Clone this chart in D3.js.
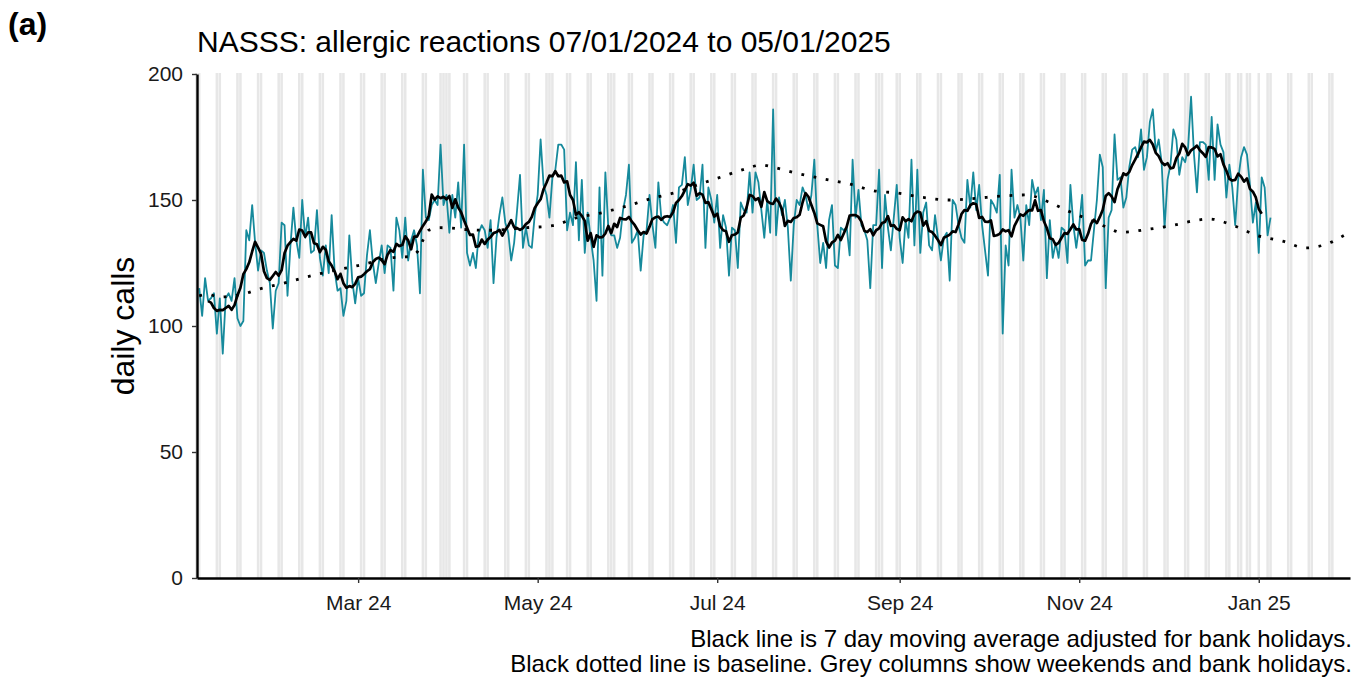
<!DOCTYPE html>
<html>
<head>
<meta charset="utf-8">
<script src="https://cdn.jsdelivr.net/npm/d3@7"></script>
<style>
  body { margin: 0; background: #fff; }
  svg { font-family: "Liberation Sans", Arial, sans-serif; }
</style>
</head>
<body>
<svg width="1357" height="677"></svg>
<script>
// daily calls from 07/01/2024, one value per day
var startDate = '2024-01-07';
var dailyCalls = [
    115, 104, 119, 110, 111, 113, 97, 111, 89, 111,
    113, 110, 119, 103, 100, 102, 138, 134, 148, 133,
    122, 130, 129, 122, 117, 99, 114, 117, 141, 140,
    112, 132, 147, 134, 127, 150, 135, 143, 129, 130,
    146, 127, 120, 132, 121, 144, 122, 114, 115, 104,
    110, 136, 118, 109, 119, 112, 113, 128, 138, 125,
    117, 125, 132, 121, 132, 131, 114, 143, 138, 127,
    143, 126, 134, 138, 132, 113, 162, 143, 142, 148,
    150, 148, 172, 148, 152, 137, 152, 143, 157, 139,
    172, 129, 124, 129, 123, 137, 140, 138, 131, 142,
    117, 135, 144, 151, 141, 137, 126, 133, 146, 160,
    131, 139, 132, 131, 144, 152, 174, 156, 152, 143,
    159, 162, 172, 172, 170, 138, 145, 140, 165, 134,
    158, 129, 145, 135, 126, 110, 155, 120, 161, 139,
    136, 136, 131, 135, 146, 152, 164, 133, 135, 138,
    122, 136, 138, 152, 140, 131, 157, 143, 141, 140,
    143, 148, 133, 155, 156, 167, 148, 154, 164, 150,
    151, 164, 131, 155, 150, 141, 152, 131, 144, 139,
    120, 139, 138, 123, 149, 146, 145, 161, 145, 161,
    157, 146, 135, 150, 137, 186, 136, 151, 144, 150,
    139, 118, 140, 150, 148, 155, 152, 146, 152, 166,
    140, 125, 133, 123, 142, 148, 124, 123, 139, 138,
    139, 128, 166, 143, 154, 140, 138, 134, 115, 140,
    140, 162, 123, 152, 139, 130, 143, 156, 135, 125,
    142, 135, 166, 132, 162, 129, 145, 149, 132, 130,
    144, 135, 126, 135, 137, 118, 150, 148, 140, 135,
    133, 158, 147, 161, 146, 156, 140, 130, 120, 150,
    148, 145, 160, 97, 132, 124, 162, 143, 148, 143,
    126, 148, 140, 158, 152, 155, 142, 154, 119, 142,
    127, 133, 127, 139, 138, 125, 156, 140, 131, 140,
    152, 124, 126, 126, 138, 150, 168, 163, 115, 143,
    146, 176, 158, 159, 147, 151, 163, 170, 171, 167,
    178, 162, 167, 181, 186, 169, 174, 165, 139, 158,
    164, 178, 174, 160, 167, 165, 171, 191, 168, 153,
    173, 173, 172, 158, 183, 158, 180, 172, 169, 151,
    164, 155, 140, 158, 167, 171, 168, 156, 141, 149,
    129, 159, 155, 136, 143
];

// baseline, read at roughly weekly points (days after startDate)
var baselineDays = [0, 3, 7, 11, 16, 20, 24, 28, 37, 45, 54, 67, 71, 74, 76, 78, 82, 86, 90, 99,
    111, 120, 128, 137, 145, 153, 162, 170, 178, 186, 191, 195, 203, 212, 221, 229, 237, 246,
    255, 264, 272, 281, 289, 297, 301, 309, 313, 322, 331, 339, 343, 352, 359, 368, 376, 383, 389];
var baselineValues = [112, 112.5, 111.5, 111.9, 113, 114.5, 115.7, 116.8, 119.6, 121.8, 124, 127.3,
    127.5, 129.3, 134, 138, 139, 138.8, 138.3, 138, 139, 139.8, 142.9, 145, 147.5, 150.4, 153,
    156.3, 159.4, 162.5, 163.9, 163, 160.6, 158.4, 156.3, 153.7, 152.8, 151, 150, 150.7, 151.5,
    152, 149, 144.7, 142.9, 138.9, 137.2, 138.3, 140, 142, 142.5, 139.6, 136.1, 133.7, 131, 132.5, 136];

var bankHolidays = ['2024-03-29', '2024-04-01', '2024-05-06', '2024-05-27', '2024-08-26',
    '2024-12-25', '2024-12-26', '2025-01-01'];

var yTicks = [0, 50, 100, 150, 200];
var xTicks = ['2024-03-01', '2024-05-01', '2024-07-01', '2024-09-01', '2024-11-01', '2025-01-01'];

var panelLabel = '(a)';
var titleText = 'NASSS: allergic reactions 07/01/2024 to 05/01/2025';
var yLabel = 'daily calls';
var captionLines = [
    'Black line is 7 day moving average adjusted for bank holidays.',
    'Black dotted line is baseline. Grey columns show weekends and bank holidays.'
];

var parseDate = d3.utcParse('%Y-%m-%d');
var start = parseDate(startDate);

var svg = d3.select('svg');
var margin = { top: 74, right: 7, bottom: 99, left: 197 };
var width = svg.attr('width') - margin.left - margin.right;
var height = svg.attr('height') - margin.top - margin.bottom;

var g = svg.append('g')
    .attr('transform', 'translate(' + margin.left + ',' + margin.top + ')');

var xScale = d3.scaleUtc()
    .domain([new Date(Date.UTC(2024, 0, 6, 6)), new Date(Date.UTC(2025, 1, 1))])
    .range([0, width]);

var yScale = d3.scaleLinear()
    .domain([0, 200])
    .range([height, 0]);

// grey columns: weekends and bank holidays
var holidaySet = new Set(bankHolidays);
var greyDays = d3.utcDay.range(parseDate('2024-01-06'), parseDate('2025-02-01'))
    .filter(function (d) {
        var wd = d.getUTCDay();
        return wd === 0 || wd === 6 || holidaySet.has(d3.utcFormat('%Y-%m-%d')(d));
    });

var dayPx = xScale(d3.utcDay.offset(start, 1)) - xScale(start);

g.append('g').selectAll('rect')
    .data(greyDays)
    .enter().append('rect')
    .attr('x', function (d) { return xScale(d) - dayPx * 0.43; })
    .attr('width', dayPx * 0.86)
    .attr('y', -1)
    .attr('height', height + 1)
    .attr('fill', '#e7e7e7');

var daily = dailyCalls.map(function (v, i) {
    return { date: d3.utcDay.offset(start, i), value: v };
});

var movingAvg = [];
for (var i = 3; i < dailyCalls.length - 3; i++) {
    movingAvg.push({ date: daily[i].date, value: d3.mean(dailyCalls.slice(i - 3, i + 4)) });
}

var baseline = baselineDays.map(function (d, i) {
    return { date: d3.utcDay.offset(start, d), value: baselineValues[i] };
});

var line = d3.line()
    .x(function (d) { return xScale(d.date); })
    .y(function (d) { return yScale(d.value); });

g.append('path')
    .datum(daily)
    .attr('d', line)
    .attr('fill', 'none')
    .attr('stroke', '#168a9c')
    .attr('stroke-width', 1.8)
    .attr('stroke-linejoin', 'round');

g.append('path')
    .datum(movingAvg)
    .attr('d', line)
    .attr('fill', 'none')
    .attr('stroke', 'black')
    .attr('stroke-width', 2.7)
    .attr('stroke-linejoin', 'round');

g.append('path')
    .datum(baseline)
    .attr('d', line.curve(d3.curveMonotoneX))
    .attr('fill', 'none')
    .attr('stroke', 'black')
    .attr('stroke-width', 2.8)
    .attr('stroke-dasharray', '2.8,9.6');

var yAxis = g.append('g')
    .call(d3.axisLeft(yScale).tickValues(yTicks).tickSize(5).tickSizeOuter(0).tickPadding(9));

var xAxis = g.append('g')
    .attr('transform', 'translate(0,' + height + ')')
    .call(d3.axisBottom(xScale).tickValues(xTicks.map(parseDate))
        .tickFormat(d3.utcFormat('%b %y')).tickSize(5).tickSizeOuter(0).tickPadding(12));

[yAxis, xAxis].forEach(function (ax) {
    ax.select('.domain').attr('stroke', 'black').attr('stroke-width', 2.4);
    ax.selectAll('.tick line').attr('stroke', '#333').attr('stroke-width', 1.4);
    ax.selectAll('.tick text').attr('fill', '#1a1a1a').style('font-size', '21px')
        .style('font-family', '"Liberation Sans", Arial, sans-serif');
});

svg.append('text')
    .attr('x', 8).attr('y', 35)
    .style('font-size', '32px').style('font-weight', 'bold')
    .text(panelLabel);

svg.append('text')
    .attr('x', 197).attr('y', 52)
    .style('font-size', '30px')
    .text(titleText);

svg.append('text')
    .attr('transform', 'translate(134,' + (margin.top + height / 2) + ') rotate(-90)')
    .attr('text-anchor', 'middle')
    .style('font-size', '32px')
    .text(yLabel);

svg.selectAll('.caption')
    .data(captionLines)
    .enter().append('text')
    .attr('class', 'caption')
    .attr('x', 1352)
    .attr('y', function (d, i) { return 647 + i * 25; })
    .attr('text-anchor', 'end')
    .style('font-size', '24px')
    .text(function (d) { return d; });
</script>
</body>
</html>
